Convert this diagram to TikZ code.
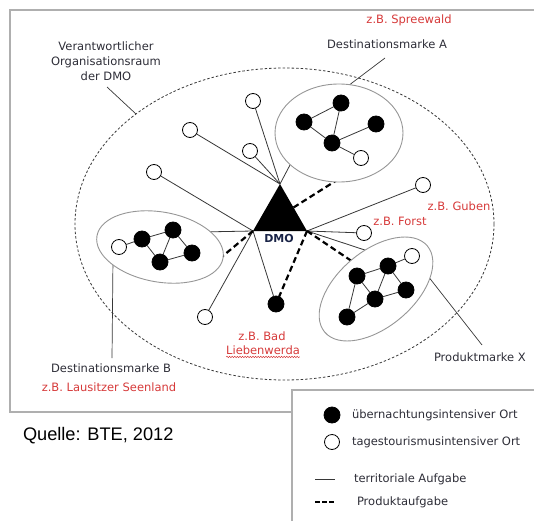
\documentclass[tikz,border=0pt]{standalone}
\usepackage{fontspec}
\setmainfont{DejaVu Sans}
\newfontfamily\quellefont{Liberation Sans}
\usetikzlibrary{shapes.geometric,decorations.pathmorphing}

\definecolor{redtext}{RGB}{214,58,58}
\definecolor{darktext}{RGB}{45,45,55}
\definecolor{linkgray}{RGB}{55,55,55}
\definecolor{rimgray}{RGB}{150,150,150}
\definecolor{framegray}{RGB}{175,175,175}
\definecolor{dmoblue}{RGB}{25,35,70}

\begin{document}
\begin{tikzpicture}[x=1pt,y=-1pt,
  every node/.style={inner sep=0pt,outer sep=0pt},
  txt/.style={font=\fontsize{11.5}{15}\selectfont,text=darktext,align=center},
  redtxt/.style={txt,text=redtext},
  link/.style={draw=linkgray,line width=0.8pt},
  prodlink/.style={draw=black,line width=2.2pt,dash pattern=on 6pt off 3.5pt},
  leader/.style={draw=linkgray,line width=0.7pt},
  brand/.style={ellipse,draw=rimgray,line width=0.9pt,fill=white},
  place/.style={circle,draw=black,line width=0.8pt,minimum size=16pt},
  staynode/.style={place,fill=black},
  daynode/.style={place,fill=white,minimum size=15pt}]

\useasboundingbox (0,0) rectangle (534,521);

% frame and legend box
\draw[framegray,line width=1.4pt] (534,10) -- (10,10) -- (10,412) -- (292,412);
\draw[framegray,line width=1.4pt] (292,521) -- (292,390) -- (534,390);

% area of the DMO
\node[ellipse,draw=linkgray,line width=0.8pt,dash pattern=on 2.5pt off 2pt,
      minimum width=419pt,minimum height=312pt] (area) at (284.5,224) {};

% DMO corners
\coordinate (apex) at (280,184);
\coordinate (bl) at (253,231);
\coordinate (br) at (307,231);
\coordinate (redge) at (293.5,207.5);

% single places
\node[daynode] (c1) at (253,101) {};
\node[daynode] (c2) at (190,130) {};
\node[daynode] (c3) at (250,151) {};
\node[daynode] (c4) at (154,172) {};
\node[daynode] (c5) at (205,317) {};
\node[daynode] (guben) at (423,185) {};
\node[daynode] (forst) at (364,233) {};
\node[staynode] (bad) at (276,304) {};

% end points inside the brand areas
\coordinate (aIn1) at (295,155.5);
\coordinate (aIn2) at (345,175);
\coordinate (bIn1) at (200,232);
\coordinate (bIn2) at (218,260);
\coordinate (xIn1) at (380,255);
\coordinate (xIn2) at (362,268);

% territorial tasks
\path[link] (apex) -- (c1);
\path[link] (apex) -- (c2);
\path[link] (apex) -- (c3);
\path[link] (apex) -- (aIn1);
\path[link] (bl) -- (c4);
\path[link] (bl) -- (bIn1);
\path[link] (bl) -- (c5);
\path[link] (bl) -- (bad);
\path[link] (br) -- (guben);
\path[link] (br) -- (forst);
\path[link] (br) -- (xIn1);

% product tasks
\path[prodlink] (redge) -- (aIn2);
\path[prodlink] (bl) -- (bIn2);
\path[prodlink] (br) -- (bad);
\path[prodlink] (br) -- (xIn2);

% label leaders
\coordinate (lOrg) at (107,87);
\coordinate (lOrgEnd) at (136,114);
\coordinate (lA) at (385,58);
\coordinate (lAIn) at (340,92);
\coordinate (lB) at (112,358);
\coordinate (lBIn) at (113,258);
\coordinate (lX) at (482,345);
\coordinate (lXIn) at (424,271);
\path[leader] (lOrg) -- (lOrgEnd);
\path[leader] (lA) -- (lAIn);
\path[leader] (lB) -- (lBIn);
\path[leader] (lX) -- (lXIn);

% brand areas
\node[brand,minimum width=128pt,minimum height=98pt] (brandA) at (339,133) {};
\node[brand,minimum width=128pt,minimum height=70pt,rotate=-10] (brandB) at (160,247) {};
\node[brand,minimum width=134pt,minimum height=76pt,rotate=40] (brandX) at (376,289) {};

% Destinationsmarke A
\node[staynode] (a1) at (341,103) {};
\node[staynode] (a2) at (304,122) {};
\node[staynode] (a3) at (376,124) {};
\node[staynode] (a4) at (332,143) {};
\node[daynode] (a5) at (361,158) {};
\path[link] (a2) -- (a1) (a1) -- (a4) (a2) -- (a4) (a4) -- (a3) (a4) -- (a5);

% Destinationsmarke B
\node[daynode] (b0) at (119,247) {};
\node[staynode] (b1) at (142,239) {};
\node[staynode] (b2) at (173,230) {};
\node[staynode] (b3) at (192,253) {};
\node[staynode] (b4) at (160,262) {};
\path[link] (b0) -- (b1) (b1) -- (b2) (b1) -- (b4) (b2) -- (b3) (b2) -- (b4) (b4) -- (b3);

% Produktmarke X
\node[daynode] (x0) at (412,256) {};
\node[staynode] (x1) at (388,266) {};
\node[staynode] (x2) at (357,276) {};
\node[staynode] (x3) at (406,290) {};
\node[staynode] (x4) at (375,299) {};
\node[staynode] (x5) at (347,317) {};
\path[link] (x0) -- (x1) (x2) -- (x1) (x1) -- (x4) (x1) -- (x3)
            (x2) -- (x4) (x2) -- (x5) (x5) -- (x4) (x4) -- (x3);

% DMO
\fill[black] (apex) -- (bl) -- (br) -- cycle;
\node[font=\fontsize{11}{13}\selectfont\bfseries,text=dmoblue] (dmo) at (279,238) {DMO};

% labels
\node[txt] (org) at (106,61) {Verantwortlicher\\Organisationsraum\\der DMO};
\node[redtxt] (spree) at (409,20) {z.B. Spreewald};
\node[txt] (markeA) at (387,44) {Destinationsmarke A};
\node[redtxt] (gubentxt) at (459,206) {z.B. Guben};
\node[redtxt] (forsttxt) at (400,221) {z.B. Forst};
\node[redtxt] (badtxt) at (262,336) {z.B. Bad};
\node[redtxt] (lieb) at (263,350) {Liebenwerda};
\draw[redtext,line width=0.5pt,decorate,decoration={snake,amplitude=0.7pt,segment length=2.6pt}]
  ([yshift=-2.5pt]lieb.south west) -- ([yshift=-2.5pt]lieb.south east);
\node[txt] (markeB) at (111,368) {Destinationsmarke B};
\node[redtxt] (seen) at (109,387) {z.B. Lausitzer Seenland};
\node[txt,anchor=west] (markeX) at (434,357) {Produktmarke X};

\node[anchor=base west,font=\quellefont\fontsize{18.2}{21}\selectfont,text=black] (quelle) at (23,440) {Quelle: BTE, 2012};

% legend
\node[staynode] (legStay) at (332,415) {};
\node[daynode] (legDay) at (332,442) {};
\coordinate (legT1) at (315,479);
\coordinate (legT2) at (335,479);
\coordinate (legP1) at (315,502);
\coordinate (legP2) at (335,502);
\path[link] (legT1) -- (legT2);
\path[draw=black,line width=2.2pt,dash pattern=on 4.5pt off 2.5pt] (legP1) -- (legP2);
\node[txt,anchor=west] (legStayTxt) at (352,415) {übernachtungsintensiver Ort};
\node[txt,anchor=west] (legDayTxt) at (352,442) {tagestourismusintensiver Ort};
\node[txt,anchor=west] (legTTxt) at (354,479) {territoriale Aufgabe};
\node[txt,anchor=west] (legPTxt) at (357,502) {Produktaufgabe};
\end{tikzpicture}
\end{document}
